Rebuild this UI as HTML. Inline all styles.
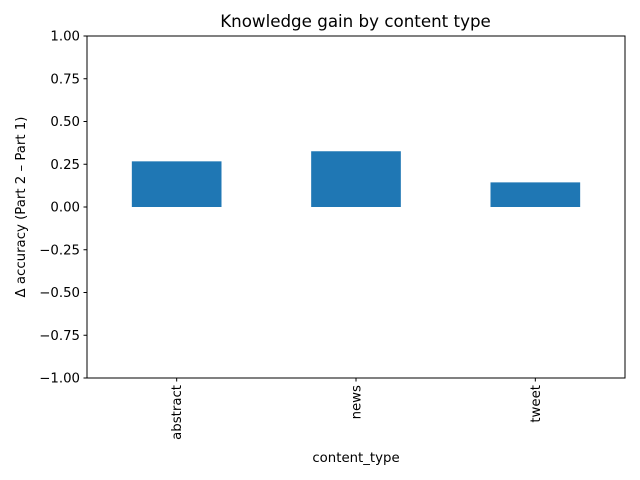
<!DOCTYPE html>
<html><head><meta charset="utf-8"><style>body{margin:0;background:#fff}svg{display:block;font-family:"DejaVu Sans","Liberation Sans",sans-serif}</style></head>
<body>
<svg id="chart" width="640" height="480"></svg>
<script>
const categories=["abstract","news","tweet"];
const values=[0.267,0.326,0.144];
const yTicks=[-1,-0.75,-0.5,-0.25,0,0.25,0.5,0.75,1];
const yTickLabels=["\u22121.00","\u22120.75","\u22120.50","\u22120.25","0.00","0.25","0.50","0.75","1.00"];
const NS="http://www.w3.org/2000/svg";
const svg=document.getElementById('chart');
const L=87,R=625,T=36,B=378;
const y=v=>B-(v+1)/2*(B-T);
const step=(R-L)/categories.length;
const xc=i=>L+step*(i+0.5);
function mk(t,a,txt){const e=document.createElementNS(NS,t);for(const k in a)e.setAttribute(k,a[k]);if(txt!==undefined)e.textContent=txt;svg.appendChild(e);return e;}
values.forEach((v,i)=>{const bw=step*0.5;const r=mk('rect',{x:xc(i)-bw/2,y:Math.min(y(v),y(0)),width:bw,height:Math.abs(y(v)-y(0)),fill:'#1f77b4'});

});
const ax=mk('rect',{x:L,y:T,width:R-L,height:B-T,fill:'none',stroke:'#000','stroke-width':1});


yTicks.forEach((v,i)=>{mk('line',{x1:L-3.5,x2:L,y1:y(v),y2:y(v),stroke:'#000'});
const t=mk('text',{x:L-7,y:y(v)+4.5,'text-anchor':'end','font-size':13.3},yTickLabels[i]);

});
categories.forEach((c,i)=>{mk('line',{x1:xc(i),x2:xc(i),y1:B,y2:B+3.5,stroke:'#000'});
const t=mk('text',{x:0,y:0,'text-anchor':'end','font-size':13.3,transform:`translate(${xc(i)+4.5},${B+7}) rotate(-90)`},c);

});
const ti=mk('text',{x:(L+R)/2-0.5,y:27,'text-anchor':'middle','font-size':16.7},'Knowledge gain by content type');


const xt=mk('text',{x:(L+R)/2,y:462,'text-anchor':'middle','font-size':13.3},'content_type');


const yt=mk('text',{x:0,y:0,'text-anchor':'middle','font-size':13.3,transform:`translate(25,${(T+B)/2}) rotate(-90)`},'\u0394 accuracy (Part 2 \u2013 Part 1)');


</script>
</body></html>
